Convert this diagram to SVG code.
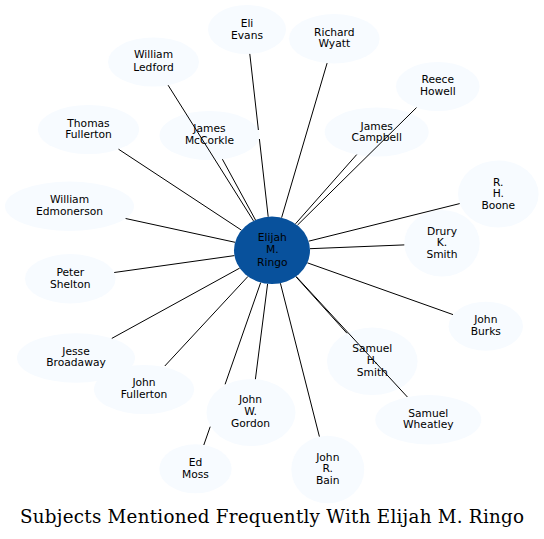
<svg xmlns="http://www.w3.org/2000/svg" width="544" height="539" viewBox="0 0 544 539">
<style>
.n ellipse{fill:#f7fbff;stroke:none}
.c ellipse{fill:#08519c;stroke:none}
text{font-family:"DejaVu Sans","Liberation Sans",sans-serif;font-size:10.7px;fill:#000;text-anchor:middle}
.e path{stroke:#000;stroke-width:1;fill:none}
.t{font-family:"DejaVu Serif","Liberation Serif",serif;font-size:18.3px}
</style>
<rect width="544" height="539" fill="#fff"/>
<g id="nodes">
<g id="eli-evans" class="n"><ellipse cx="247" cy="29.5" rx="39" ry="24.5"/><text x="247" y="27">Eli</text><text x="247" y="38.5">Evans</text></g>
<g id="william-ledford" class="n"><ellipse cx="153.5" cy="62" rx="45.5" ry="24.5"/><text x="153.5" y="58">William</text><text x="153.5" y="70.5">Ledford</text></g>
<g id="thomas-fullerton" class="n"><ellipse cx="88.5" cy="129.5" rx="50.5" ry="24.5"/><text x="88.5" y="126.7">Thomas</text><text x="88.5" y="138">Fullerton</text></g>
<g id="james-mccorkle" class="n"><ellipse cx="209.5" cy="135.5" rx="50" ry="24.5"/><text x="209.5" y="132">James</text><text x="209.5" y="144">McCorkle</text></g>
<g id="richard-wyatt" class="n"><ellipse cx="334.3" cy="38.7" rx="45.3" ry="24.7"/><text x="334.3" y="35.7">Richard</text><text x="334.3" y="47.3">Wyatt</text></g>
<g id="reece-howell" class="n"><ellipse cx="437.8" cy="86.5" rx="41.8" ry="24.5"/><text x="437.8" y="83.3">Reece</text><text x="437.8" y="94.7">Howell</text></g>
<g id="james-campbell" class="n"><ellipse cx="376.7" cy="132" rx="52" ry="24.5"/><text x="376.7" y="129.7">James</text><text x="376.7" y="140.7">Campbell</text></g>
<g id="rh-boone" class="n"><ellipse cx="498.3" cy="194" rx="40.3" ry="33.5"/><text x="498.3" y="185.7">R.</text><text x="498.3" y="197.3">H.</text><text x="498.3" y="208.5">Boone</text></g>
<g id="drury-smith" class="n"><ellipse cx="442" cy="243.3" rx="37.7" ry="33.3"/><text x="442" y="234.7">Drury</text><text x="442" y="246.2">K.</text><text x="442" y="257.5">Smith</text></g>
<g id="john-burks" class="n"><ellipse cx="485.8" cy="326.2" rx="37.2" ry="24.5"/><text x="485.8" y="323.3">John</text><text x="485.8" y="335">Burks</text></g>
<g id="samuel-smith" class="n"><ellipse cx="372.3" cy="361.3" rx="45.3" ry="33.7"/><text x="372.3" y="352.3">Samuel</text><text x="372.3" y="364.2">H.</text><text x="372.3" y="376.2">Smith</text></g>
<g id="samuel-wheatley" class="n"><ellipse cx="428.3" cy="419.7" rx="53" ry="24.7"/><text x="428.3" y="416.7">Samuel</text><text x="428.3" y="428.3">Wheatley</text></g>
<g id="john-bain" class="n"><ellipse cx="327.8" cy="469.5" rx="36.5" ry="33.8"/><text x="327.8" y="460.7">John</text><text x="327.8" y="472.3">R.</text><text x="327.8" y="484">Bain</text></g>
<g id="john-gordon" class="n"><ellipse cx="251" cy="412.5" rx="44.5" ry="33.5"/><text x="250.5" y="403.3">John</text><text x="250.5" y="415">W.</text><text x="250.5" y="426.7">Gordon</text></g>
<g id="ed-moss" class="n"><ellipse cx="195.5" cy="468.8" rx="36.2" ry="24.5"/><text x="195.5" y="465.7">Ed</text><text x="195.5" y="478">Moss</text></g>
<g id="john-fullerton" class="n"><ellipse cx="144" cy="389.5" rx="50" ry="24.5"/><text x="144" y="386.3">John</text><text x="144" y="398">Fullerton</text></g>
<g id="jesse-broadaway" class="n"><ellipse cx="76" cy="358" rx="59" ry="24.7"/><text x="76" y="354.7">Jesse</text><text x="76" y="366.3">Broadaway</text></g>
<g id="peter-shelton" class="n"><ellipse cx="70.3" cy="278.7" rx="45.3" ry="24.7"/><text x="70.3" y="276.3">Peter</text><text x="70.3" y="288">Shelton</text></g>
<g id="william-edmonerson" class="n"><ellipse cx="69.5" cy="206.3" rx="64.5" ry="24.7"/><text x="69.5" y="203.3">William</text><text x="69.5" y="215">Edmonerson</text></g>
</g>
<g id="connectors" class="e">
<path d="M249.8,53.9L258.4,130M259.4,139L268.2,216.8"/>
<path d="M168.1,85.2L253.5,220.9"/>
<path d="M118.5,149.2L241.5,230.2"/>
<path d="M222.4,159.2L255.5,220"/>
<path d="M327.1,63.1L281.6,217.7"/>
<path d="M416.5,107.6L297.4,225.2"/>
<path d="M356.7,154.6L295.5,223.8"/>
<path d="M459.7,203.6L308.6,241.2"/>
<path d="M404.3,244.9L310,248.7"/>
<path d="M453,314.6L307.3,262.8"/>
<path d="M347,333.3L295.8,276.6"/>
<path d="M407.4,397L296.1,276.4"/>
<path d="M319.4,436.6L280.4,283.2"/>
<path d="M255.4,379.2L267.6,283.8"/>
<path d="M203.8,445L210.2,426.7M225.1,384.3L260.7,282.5"/>
<path d="M164.8,366L248,276.4"/>
<path d="M111.8,338.4L239.7,268.1"/>
<path d="M114.2,272.5L234.5,255.6"/>
<path d="M125.6,218.5L235.1,242.3"/>
</g>
<g id="elijah-ringo" class="c"><ellipse cx="272" cy="250.3" rx="38" ry="33.7"/><text x="272.3" y="240.7">Elijah</text><text x="272.3" y="253">M.</text><text x="272.3" y="265.5">Ringo</text></g>
<text class="t" x="272" y="523" textLength="504" lengthAdjust="spacing">Subjects Mentioned Frequently With Elijah M. Ringo</text>
</svg>
